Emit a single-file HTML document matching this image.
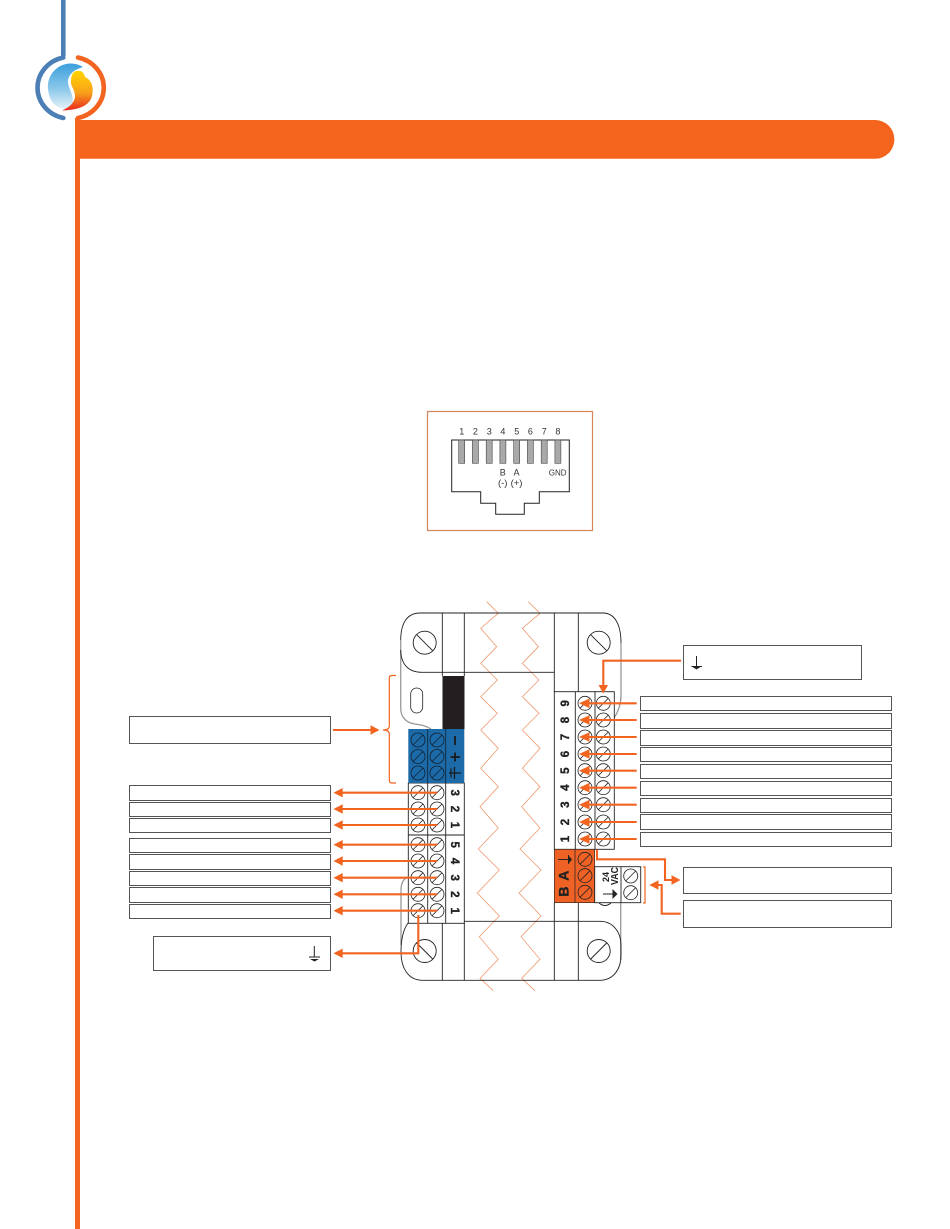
<!DOCTYPE html>
<html><head><meta charset="utf-8"><style>
html,body{margin:0;padding:0;background:#fff;width:950px;height:1229px;overflow:hidden}
svg{display:block;font-family:"Liberation Sans",sans-serif}
.b{fill:#fff;stroke:#555;stroke-width:1}
.o{stroke:#f2641f;stroke-width:2.1;fill:none}
.h{fill:#f2641f;stroke:none}
.k{fill:none;stroke:#222;stroke-width:.9}
.g{fill:none;stroke:#999;stroke-width:1.3}
.t{font-weight:bold;font-size:11.5px;fill:#222;stroke:#222;stroke-width:.35;text-anchor:middle}
.r{font-size:9px;fill:#333;text-anchor:middle}
.z{fill:none;stroke:#ef9a70;stroke-width:.8}
</style></head><body>
<svg width="950" height="1229" viewBox="0 0 950 1229" xmlns="http://www.w3.org/2000/svg">
<defs>
<linearGradient id="bl" x1="0" y1="0" x2="0" y2="1"><stop offset="0" stop-color="#3c9fdc"/><stop offset=".55" stop-color="#8cc8ea"/><stop offset="1" stop-color="#e6f3fa"/></linearGradient>
<linearGradient id="fl" x1="0" y1="0" x2="0" y2="1"><stop offset="0" stop-color="#ffd400"/><stop offset=".55" stop-color="#f9a11b"/><stop offset="1" stop-color="#e8281f"/></linearGradient>
<g id="s"><circle r="7" fill="none" stroke="#222" stroke-width=".8"/><path d="M-4.9 4.9L4.9-4.9" stroke="#222" stroke-width=".8"/></g>
<g id="sb"><circle r="7" fill="none" stroke="#123" stroke-width=".8"/><path d="M-4.9 4.9L4.9-4.9" stroke="#123" stroke-width=".8"/></g>
<g id="big"><circle r="11.5" fill="none" stroke="#222" stroke-width=".9"/><path d="M-8 -8L8 8" stroke="#222" stroke-width=".9"/></g>
<path id="zz" d="M486.7 601.7L498.3 613.3L480.7 628.3L496.7 646.7L480.7 663.3L497.3 680L480.7 696.7L497.3 713.3L480.7 730L498.3 748.3L480.7 768.3L498.3 786.7L480 806.7L498.3 828L478.3 849L499.3 870L477.3 893L499.3 916L479.3 936.7L498.3 959.3L480 978.3L493.3 990.7"/>
</defs>

<!-- page frame -->
<rect x="61" y="0" width="4.6" height="56" fill="#4b7fb5"/>
<path d="M63.3 57.500A33 31 0 0 0 63.300 118" fill="none" stroke="#4b7fb5" stroke-width="4.600" stroke-linecap="round"/>
<path d="M78 57.500A33 31 0 0 1 78 118" fill="none" stroke="#f2641f" stroke-width="4.600" stroke-linecap="round"/>
<rect x="75" y="118" width="5" height="1111" fill="#f2641f"/>
<path d="M75 120H875A19.4 19.4 0 0 1 875 158.8H75Z" fill="#f4641c"/>
<!-- logo -->
<path d="M83 67A23 23 0 0 0 48.5 92C50 102 56 108 66 109.5C72 108 74 102 72 95C70 88 66 83 69 77C72 71 77 69 83 67Z" fill="url(#bl)"/>
<path d="M74 72C80 69 84 72 85 77C92 80 94 88 92 96C90 104 82 110 62 110.5C70 107 75 102 75 96C75 89 70 86 71 80C71.500 76 72 74 74 72Z" fill="url(#fl)"/>

<!-- RJ45 -->
<rect x="427.5" y="411.500" width="165" height="119" fill="#fff" stroke="#d8855a" stroke-width="1.2"/>
<path d="M451.700 440H569.300V491.700H539.300V503.300H524.300V514.300H495.700V503.300H480.700V491.700H451.700Z" fill="none" stroke="#222" stroke-width="1"/>
<g fill="#a9a9a9" stroke="#444" stroke-width=".6">
<rect x="458.700" y="440" width="6" height="23.300"/><rect x="472.400" y="440" width="6" height="23.300"/><rect x="486.200" y="440" width="6" height="23.300"/><rect x="499.900" y="440" width="6" height="23.300"/><rect x="513.700" y="440" width="6" height="23.300"/><rect x="527.400" y="440" width="6" height="23.300"/><rect x="541.200" y="440" width="6" height="23.300"/><rect x="554.900" y="440" width="6" height="23.300"/>
</g>
<g class="r">
<text x="461.700" y="434.500">1</text><text x="475.400" y="434.500">2</text><text x="489.200" y="434.500">3</text><text x="502.900" y="434.500">4</text><text x="516.700" y="434.500">5</text><text x="530.400" y="434.500">6</text><text x="544.200" y="434.500">7</text><text x="557.900" y="434.500">8</text>
</g>
<g class="r"><text x="502.700" y="475.500">B</text><text x="516.500" y="475.500">A</text><text x="502.700" y="486" style="font-size:9.500px">(-)</text><text x="516.500" y="486" style="font-size:9.500px">(+)</text><text x="557.700" y="475.500" style="font-size:8px">GND</text></g>

<!-- zigzags -->
<use href="#zz" class="z"/>
<use href="#zz" class="z" x="41.700"/>

<!-- device body -->
<path d="M400.700 640V708C400.700 718 407 723 415 724C420 725 425 725 431 729" class="g"/>
<path d="M621 643V695C621 705 618 712 614 718" class="g"/>
<path d="M408 877C403 879 401 884 401 890V945" class="g"/>
<path d="M620.700 903V960" class="g"/>
<path d="M400.700 640C400.700 622 408 613 420 613H603C615 613 621 625 621 643" class="k"/>
<path d="M408 923C403 930 401 940 401 952C401 968 408 980 422 980.300H600C613 980 621 970 621 955V945C621 932 613 921.300 600 921.300H464.300" class="k"/>
<path d="M400.700 650C401 665 409 672.300 422 672.300H554.300" class="k"/>
<path d="M442.300 613V676M464.300 613V676M554.300 613V692M578.300 613V692" class="k"/>
<path d="M442.300 923V980M464.300 923V980M554.300 903V980M578.300 903V980" class="k"/>
<rect x="410.700" y="688" width="12" height="25" rx="6" fill="none" stroke="#222" stroke-width=".8"/>
<rect x="442.500" y="676" width="22" height="53" fill="#231f20"/>
<use href="#big" x="424.700" y="642.700"/>
<use href="#big" x="598.700" y="642.700"/>
<use href="#big" x="424.700" y="951"/>
<g transform="translate(598.700 951) scale(-1 1)"><use href="#big"/></g>

<!-- left terminal block -->
<rect x="408.300" y="783" width="56" height="140.300" fill="#fff" stroke="#222" stroke-width=".9"/>
<path d="M427.700 783V923M445.700 783V923M408.300 835H464.300" class="k"/>
<rect x="408.300" y="729" width="56" height="54" fill="#1c6aa8"/>
<path d="M427.700 729V783M445.700 729V783" stroke="#123" stroke-width=".8"/>
<use href="#sb" x="418" y="740"/><use href="#sb" x="437" y="740"/>
<use href="#sb" x="418" y="756.500"/><use href="#sb" x="437" y="756.500"/>
<use href="#sb" x="418" y="773"/><use href="#sb" x="437" y="773"/>
<path d="M454.500 767V779M451 768.500V777.500M449 773H461" stroke="#1a1a1a" stroke-width="1.200" fill="none"/>
<path d="M455 736V745M450.500 757H460M455 752.500V761.500" stroke="#1a1a1a" stroke-width="1.800" fill="none"/>
<g><use href="#s" x="418" y="792.700"/><use href="#s" x="437" y="792.700"/><use href="#s" x="418" y="809"/><use href="#s" x="437" y="809"/><use href="#s" x="418" y="825"/><use href="#s" x="437" y="825"/><use href="#s" x="418" y="844.700"/><use href="#s" x="437" y="844.700"/><use href="#s" x="418" y="861"/><use href="#s" x="437" y="861"/><use href="#s" x="418" y="877.700"/><use href="#s" x="437" y="877.700"/><use href="#s" x="418" y="894.300"/><use href="#s" x="437" y="894.300"/><use href="#s" x="418" y="910.700"/><use href="#s" x="437" y="910.700"/></g>
<g class="t">
<text transform="translate(451 792.700) rotate(90)">3</text><text transform="translate(451 809) rotate(90)">2</text><text transform="translate(451 825) rotate(90)">1</text>
<text transform="translate(451 844.700) rotate(90)">5</text><text transform="translate(451 861) rotate(90)">4</text><text transform="translate(451 877.700) rotate(90)">3</text><text transform="translate(451 894.300) rotate(90)">2</text><text transform="translate(451 910.700) rotate(90)">1</text>
</g>

<!-- right terminal block -->
<rect x="554.300" y="691.700" width="60" height="157.600" fill="#fff" stroke="#222" stroke-width=".9"/>
<path d="M575.300 691.700V849.300M595 691.700V849.300" class="k"/>
<g>
<use href="#s" x="585" y="703.300"/><use href="#s" x="603.300" y="703.300"/><use href="#s" x="585" y="720"/><use href="#s" x="603.300" y="720"/><use href="#s" x="585" y="737"/><use href="#s" x="603.300" y="737"/><use href="#s" x="585" y="754"/><use href="#s" x="603.300" y="754"/><use href="#s" x="585" y="770.700"/><use href="#s" x="603.300" y="770.700"/><use href="#s" x="585" y="787.700"/><use href="#s" x="603.300" y="787.700"/><use href="#s" x="585" y="804.700"/><use href="#s" x="603.300" y="804.700"/><use href="#s" x="585" y="822"/><use href="#s" x="603.300" y="822"/><use href="#s" x="585" y="839"/><use href="#s" x="603.300" y="839"/>
</g>
<g class="t">
<text transform="translate(569 703.300) rotate(-90)">9</text><text transform="translate(569 720) rotate(-90)">8</text><text transform="translate(569 737) rotate(-90)">7</text><text transform="translate(569 754) rotate(-90)">6</text><text transform="translate(569 770.700) rotate(-90)">5</text><text transform="translate(569 787.700) rotate(-90)">4</text><text transform="translate(569 804.700) rotate(-90)">3</text><text transform="translate(569 822) rotate(-90)">2</text><text transform="translate(569 839) rotate(-90)">1</text>
</g>
<!-- orange block -->
<rect x="554.300" y="849.300" width="40.400" height="53.400" fill="#ee6226" stroke="#222" stroke-width=".6"/>
<path d="M575 849.300V902.700" stroke="#222" stroke-width=".7"/>
<g><use href="#s" x="585" y="859.300"/><use href="#s" x="585" y="875.700"/><use href="#s" x="585" y="892.300"/></g>
<g class="t" style="font-size:14px"><text transform="translate(568.500 891.500) rotate(-90)">B</text><text transform="translate(568.500 875.700) rotate(-90)">A</text></g>
<path d="M558 859.500H568.500M568.500 855V864" stroke="#222" stroke-width="1" fill="none"/>
<path d="M569 856L572 859.500L569 863Z" fill="#222"/>
<!-- 24VAC block -->
<rect x="594.700" y="866.700" width="46" height="36" fill="#fff" stroke="#222" stroke-width=".9"/>
<path d="M621 866.700V902.700" class="k"/>
<path d="M599 903Q605 908 611 903" class="k"/>
<use href="#s" x="630.700" y="876"/><use href="#s" x="630.700" y="892.700"/>
<g font-weight="bold" fill="#222" text-anchor="middle"><text transform="translate(609 877) rotate(-90)" font-size="9">24</text><text transform="translate(618 876) rotate(-90)" font-size="10" textLength="18" lengthAdjust="spacingAndGlyphs">VAC</text></g>
<path d="M603 894H615" stroke="#222" stroke-width="1" fill="none"/>
<path d="M612.500 889L617.500 894L612.500 899Z" fill="#222"/>

<!-- left boxes -->
<rect class="b" x="129.500" y="716.500" width="201" height="27"/>
<rect class="b" x="129.500" y="785.500" width="201" height="15"/>
<rect class="b" x="129.500" y="802.500" width="201" height="14"/>
<rect class="b" x="129.500" y="818.500" width="201" height="14"/>
<rect class="b" x="129.500" y="838.500" width="201" height="14"/>
<rect class="b" x="129.500" y="854.500" width="201" height="15"/>
<rect class="b" x="129.500" y="871.500" width="201" height="14"/>
<rect class="b" x="129.500" y="887.500" width="201" height="15"/>
<rect class="b" x="129.500" y="904.500" width="201" height="14"/>
<rect class="b" x="153.500" y="936.500" width="177" height="34"/>
<path d="M314.300 946V957M309 957H320" stroke="#222" stroke-width="1" fill="none"/>
<path d="M310 959H319L314.500 961.500Z" fill="#222"/>

<!-- right boxes -->
<rect class="b" x="683.500" y="645.500" width="178" height="34"/>
<path d="M696.500 656V666M691.500 666.500H702" stroke="#222" stroke-width="1" fill="none"/>
<path d="M691 666H702L696.500 669.500Z" fill="#222"/>
<rect class="b" x="640.500" y="696.500" width="251" height="14"/>
<rect class="b" x="640.500" y="713.500" width="251" height="15"/>
<rect class="b" x="640.500" y="730.500" width="251" height="15"/>
<rect class="b" x="640.500" y="747.500" width="251" height="14"/>
<rect class="b" x="640.500" y="764.500" width="251" height="14"/>
<rect class="b" x="640.500" y="781.500" width="251" height="14"/>
<rect class="b" x="640.500" y="798.500" width="251" height="14"/>
<rect class="b" x="640.500" y="814.500" width="251" height="15"/>
<rect class="b" x="640.500" y="832.500" width="251" height="14"/>
<rect class="b" x="683.500" y="867.500" width="208" height="26"/>
<rect class="b" x="683.500" y="900.500" width="208" height="27"/>

<!-- left arrows -->
<g class="o">
<path d="M342 792.700H437M342 809H437M342 825H437M342 844.700H437M342 861H437M342 877.700H437M342 894.300H437M342 910.700H437"/>
<path d="M342 953.300H418.300V915"/>
<path d="M333 730H372"/>
<path d="M396 675.500H392C390 675.500 389.300 676.500 389.300 678V726C389.300 728.500 387 730 383 730C387 730 389.300 731.500 389.300 734V780C389.300 782 390 783 392 783H396" stroke-width="1.200"/>
</g>
<g class="h">
<path d="M333.500 792.700L342.700 788V797.400Z"/><path d="M333.500 809L342.700 804.300V813.700Z"/><path d="M333.500 825L342.700 820.300V829.700Z"/><path d="M333.500 844.700L342.700 840V849.400Z"/><path d="M333.500 861L342.700 856.300V865.700Z"/><path d="M333.500 877.700L342.700 873V882.400Z"/><path d="M333.500 894.300L342.700 889.600V899Z"/><path d="M333.500 910.700L342.700 906V915.400Z"/><path d="M333.500 953.300L342.700 948.600V958Z"/>
<path d="M379.500 730L370.500 725.300V734.700Z"/>
</g>

<!-- right arrows -->
<g class="o">
<path d="M587 703.300H636.700M587 720H636.700M587 737H636.700M587 754H636.700M587 770.700H636.700M587 787.700H636.700M587 804.700H636.700M587 822H636.700M587 839H636.700"/>
<path d="M681 660.700H603.300V687"/>
<path d="M597 849.500V859.300H665V880H674"/>
<path d="M680.700 913.700H661.700V885H656"/>
<path d="M643 867H645V903H643" stroke-width="1.200"/>
</g>
<g class="h">
<path d="M579 703.300L589.500 698.500V708.100Z"/><path d="M579 720L589.500 715.200V724.800Z"/><path d="M579 737L589.500 732.200V741.800Z"/><path d="M579 754L589.500 749.200V758.800Z"/><path d="M579 770.700L589.500 765.900V775.500Z"/><path d="M579 787.700L589.500 782.900V792.500Z"/><path d="M579 804.700L589.500 799.900V809.500Z"/><path d="M579 822L589.500 817.200V826.800Z"/><path d="M579 839L589.500 834.200V843.800Z"/>
<path d="M603.300 693.500L598.500 685H608.100Z"/>
<path d="M680.500 880L671.500 875.300V884.700Z"/>
<path d="M649.300 885L658.500 880.300V889.700Z"/>
</g>
</svg>
</body></html>
